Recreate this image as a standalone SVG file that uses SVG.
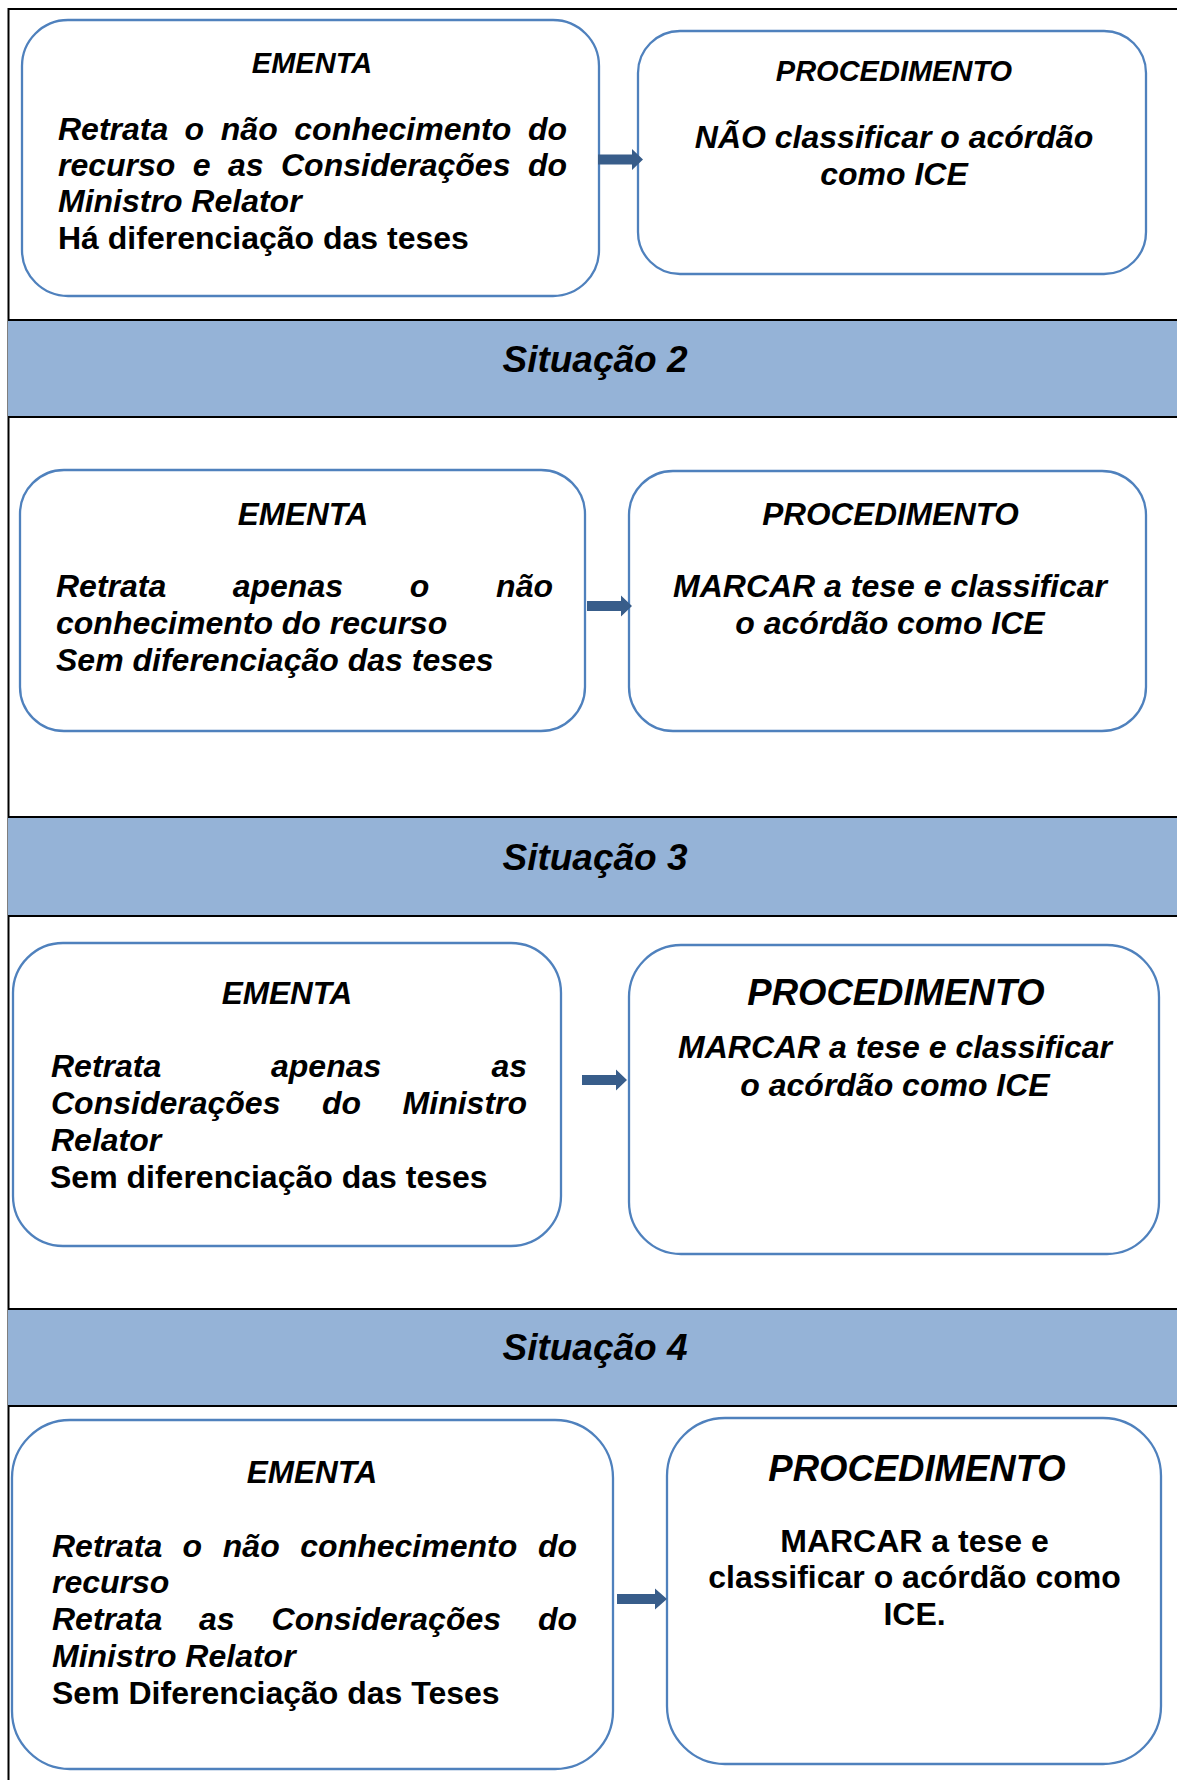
<svg xmlns="http://www.w3.org/2000/svg" width="1177" height="1780" viewBox="0 0 1177 1780">
<style>
.bg{fill:#fff}
.box{fill:#fff;stroke:#4F81BD;stroke-width:2.3}
.band{fill:#95B3D7}
.rule{stroke:#000;stroke-width:2;fill:none}
.t{font-family:'Liberation Sans',Arial,sans-serif;font-weight:bold;fill:#000;font-size:32px}
.i{font-style:italic}
.c{text-anchor:middle}
.sit{font-size:37px}
.arr{fill:#385D8A}
</style>
<rect class="bg" x="0" y="0" width="1177" height="1780"/>
<g id="frame">
<line class="rule" x1="8" y1="9" x2="1177" y2="9"/>
<line class="rule" x1="8.5" y1="8" x2="8.5" y2="1780"/>
</g>
<g id="band-situacao-2">
<rect class="band" x="8" y="320" width="1169" height="97"/>
<line class="rule" x1="8" y1="320" x2="1177" y2="320"/>
<line class="rule" x1="8" y1="417" x2="1177" y2="417"/>
<text class="t i c sit" x="595" y="372">Situação 2</text>
</g>
<g id="band-situacao-3">
<rect class="band" x="8" y="817" width="1169" height="99"/>
<line class="rule" x1="8" y1="817" x2="1177" y2="817"/>
<line class="rule" x1="8" y1="916" x2="1177" y2="916"/>
<text class="t i c sit" x="595" y="870">Situação 3</text>
</g>
<g id="band-situacao-4">
<rect class="band" x="8" y="1309" width="1169" height="97"/>
<line class="rule" x1="8" y1="1309" x2="1177" y2="1309"/>
<line class="rule" x1="8" y1="1406" x2="1177" y2="1406"/>
<text class="t i c sit" x="595" y="1360">Situação 4</text>
</g>

<g id="ementa-1">
<rect class="box" x="22" y="20" width="577" height="276" rx="46" ry="46"/>
<text class="t i c" x="312" y="73" style="font-size:29px">EMENTA</text>
<text class="t i" y="140"><tspan x="58">Retrata</tspan><tspan x="184.6">o</tspan><tspan x="220.8">não</tspan><tspan x="294.3">conhecimento</tspan><tspan x="527.9">do</tspan></text>
<text class="t i" y="176"><tspan x="58">recurso</tspan><tspan x="192.8">e</tspan><tspan x="228">as</tspan><tspan x="281">Considerações</tspan><tspan x="527.9">do</tspan></text>
<text class="t i" x="58" y="212">Ministro Relator</text>
<text class="t" x="58" y="249">Há diferenciação das teses</text>
</g>
<g id="procedimento-1">
<rect class="box" x="638" y="31" width="508" height="243" rx="42" ry="42"/>
<text class="t i c" x="894" y="81" style="font-size:29px">PROCEDIMENTO</text>
<text class="t i c" x="894" y="148">NÃO classificar o acórdão</text>
<text class="t i c" x="894" y="185">como ICE</text>
</g>

<g id="ementa-2">
<rect class="box" x="20" y="470" width="565" height="261" rx="44" ry="44"/>
<text class="t i c" x="303" y="525" style="font-size:31.5px">EMENTA</text>
<text class="t i" y="597"><tspan x="56">Retrata</tspan><tspan x="232.7">apenas</tspan><tspan x="409.7">o</tspan><tspan x="496.1">não</tspan></text>
<text class="t i" x="56" y="634">conhecimento do recurso</text>
<text class="t i" x="56" y="671">Sem diferenciação das teses</text>
</g>
<g id="procedimento-2">
<rect class="box" x="629" y="471" width="517" height="260" rx="44" ry="44"/>
<text class="t i c" x="890.5" y="525" style="font-size:31.5px">PROCEDIMENTO</text>
<text class="t i c" x="890" y="597">MARCAR a tese e classificar</text>
<text class="t i c" x="890" y="634">o acórdão como ICE</text>
</g>

<g id="ementa-3">
<rect class="box" x="13" y="943" width="548" height="303" rx="50" ry="50"/>
<text class="t i c" x="287" y="1004" style="font-size:31.5px">EMENTA</text>
<text class="t i" y="1077"><tspan x="51">Retrata</tspan><tspan x="271">apenas</tspan><tspan x="491.4">as</tspan></text>
<text class="t i" y="1114"><tspan x="51">Considerações</tspan><tspan x="321.9">do</tspan><tspan x="402.6">Ministro</tspan></text>
<text class="t i" x="51" y="1151">Relator</text>
<text class="t" x="50" y="1188">Sem diferenciação das teses</text>
</g>
<g id="procedimento-3">
<rect class="box" x="629" y="945" width="530" height="309" rx="52" ry="52"/>
<text class="t i c" x="896" y="1005" style="font-size:36.5px">PROCEDIMENTO</text>
<text class="t i c" x="895" y="1058">MARCAR a tese e classificar</text>
<text class="t i c" x="895" y="1096">o acórdão como ICE</text>
</g>

<g id="ementa-4">
<rect class="box" x="12" y="1420" width="601" height="349" rx="58" ry="58"/>
<text class="t i c" x="312" y="1483" style="font-size:31.5px">EMENTA</text>
<text class="t i" y="1557"><tspan x="52">Retrata</tspan><tspan x="182.6">o</tspan><tspan x="222.8">não</tspan><tspan x="300.3">conhecimento</tspan><tspan x="537.9">do</tspan></text>
<text class="t i" x="52" y="1593">recurso</text>
<text class="t i" y="1630"><tspan x="52">Retrata</tspan><tspan x="199">as</tspan><tspan x="271.6">Considerações</tspan><tspan x="537.9">do</tspan></text>
<text class="t i" x="52" y="1667">Ministro Relator</text>
<text class="t" x="52" y="1704">Sem Diferenciação das Teses</text>
</g>
<g id="procedimento-4">
<rect class="box" x="667" y="1418" width="494" height="346" rx="58" ry="58"/>
<text class="t i c" x="917" y="1481" style="font-size:36.5px">PROCEDIMENTO</text>
<text class="t c" x="914.5" y="1552">MARCAR a tese e</text>
<text class="t c" x="914.5" y="1588">classificar o acórdão como</text>
<text class="t c" x="914.5" y="1625">ICE.</text>
</g>

<g id="connectors">
<path class="arr" d="M598,154.5 H632 V149 L643,159.5 L632,170 V164.5 H598 Z"/>
<path class="arr" d="M587,601 H621 V595.5 L632,606 L621,616.5 V611 H587 Z"/>
<path class="arr" d="M582,1075 H616 V1069.5 L627,1080 L616,1090.5 V1085 H582 Z"/>
<path class="arr" d="M617,1594 H655 V1588.5 L667,1599 L655,1609.5 V1604 H617 Z"/>
</g>
</svg>
